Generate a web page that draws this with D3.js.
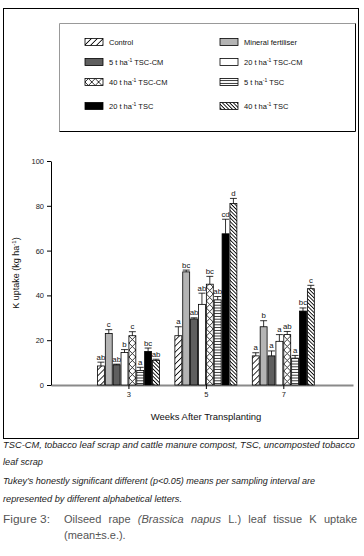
<!DOCTYPE html>
<html>
<head>
<meta charset="utf-8">
<script src="https://cdn.jsdelivr.net/npm/d3@7"></script>
<style>
  body { margin: 0; background: #fff; }
  text { font-family: "Liberation Sans", Arial, sans-serif; }
</style>
</head>
<body>
<svg id="chart" width="364" height="556"></svg>
<script>
// data
const weeks = [3, 5, 7];
const treatments = ['Control', 'Mineral fertiliser', '5 t ha-1 TSC-CM', '20 t ha-1 TSC-CM',
  '40 t ha-1 TSC-CM', '5 t ha-1 TSC', '20 t ha-1 TSC', '40 t ha-1 TSC'];
const uptakeWeek3 = [8.5, 23, 9, 14.5, 22, 6.5, 15, 11];
const uptakeWeek5 = [22, 50.5, 29.5, 36, 45, 38, 67.5, 81];
const uptakeWeek7 = [13, 26, 13, 19.5, 22.5, 12, 33, 43];
const seWeek3 = [1.7, 1.7, 0.3, 1.3, 1.8, 1.4, 1.5, 0.5];
const seWeek5 = [4, 0.8, 0.5, 5, 3.5, 1.5, 6.5, 2.3];
const seWeek7 = [1.4, 2.7, 2.2, 3, 1.4, 1.2, 1.4, 1.5];
const lettersWeek3 = ['ab', 'c', 'ab', 'b', 'c', 'a', 'bc', 'ab'];
const lettersWeek5 = ['a', 'bc', 'ab', 'ab', 'bc', 'ab', 'cd', 'd'];
const lettersWeek7 = ['a', 'b', 'a', 'a', 'ab', 'a', 'bc', 'c'];
const yTicks = [0, 20, 40, 60, 80, 100];

const uptake = [uptakeWeek3, uptakeWeek5, uptakeWeek7];
const se = [seWeek3, seWeek5, seWeek7];
const letters = [lettersWeek3, lettersWeek5, lettersWeek7];

const fills = ['url(#p-fwd)', '#b4b4b4', '#5f5f5f', '#fff', 'url(#p-cross)', 'url(#p-horiz)', '#000', 'url(#p-dense)'];

const svg = d3.select('#chart');
svg.append('rect').attr('width', 364).attr('height', 556).attr('fill', '#fff');

// patterns
const defs = svg.append('defs');
function stripes(id, size, angle, sw) {
  const p = defs.append('pattern').attr('id', id)
    .attr('patternUnits', 'userSpaceOnUse')
    .attr('width', size).attr('height', size)
    .attr('patternTransform', `rotate(${angle})`);
  p.append('rect').attr('width', size).attr('height', size).attr('fill', '#fff');
  p.append('line').attr('x1', size / 2).attr('x2', size / 2).attr('y1', 0).attr('y2', size)
    .attr('stroke', '#000').attr('stroke-width', sw);
}
stripes('p-fwd', 4.2, 45, 0.8);
stripes('p-dense', 2.6, -45, 0.9);
const ph = defs.append('pattern').attr('id', 'p-horiz')
  .attr('patternUnits', 'userSpaceOnUse').attr('width', 4).attr('height', 2.8);
ph.append('rect').attr('width', 4).attr('height', 2.8).attr('fill', '#fff');
ph.append('line').attr('x1', 0).attr('x2', 4).attr('y1', 1.4).attr('y2', 1.4)
  .attr('stroke', '#000').attr('stroke-width', 0.8);
const pc = defs.append('pattern').attr('id', 'p-cross')
  .attr('patternUnits', 'userSpaceOnUse').attr('width', 6.8).attr('height', 7);
pc.append('rect').attr('width', 6.8).attr('height', 7).attr('fill', '#fff');
pc.append('path').attr('d', 'M0,0L6.8,7M6.8,0L0,7')
  .attr('stroke', '#000').attr('stroke-width', 0.8).attr('fill', 'none');

// outer frame
svg.append('rect').attr('x', 3.5).attr('y', 8.5).attr('width', 355).attr('height', 430)
  .attr('fill', 'none').attr('stroke', '#000');

// legend box
const lg = svg.append('g');
lg.append('path').attr('d', 'M59.5,131.5V23.5H355.5').attr('fill', 'none').attr('stroke', '#999');
lg.append('path').attr('d', 'M355.5,23.5V131.5H59.5').attr('fill', 'none').attr('stroke', '#000');
const legendRows = [42, 62, 82, 106];
const legendCols = [85, 220];
treatments.forEach((name, i) => {
  const x = legendCols[i % 2], y = legendRows[Math.floor(i / 2)];
  const g = lg.append('g').attr('transform', `translate(${x},${y})`);
  g.append('rect').attr('x', 0).attr('y', -3.5).attr('width', 18).attr('height', 7)
    .attr('fill', fills[i]).attr('stroke', '#000').attr('stroke-width', 0.8);
  const t = g.append('text').attr('x', 24).attr('y', 3).attr('font-size', 7.5).attr('fill', '#111');
  const parts = name.split('-1 ');
  if (parts.length === 2) {
    t.append('tspan').text(parts[0]);
    t.append('tspan').attr('font-size', 5).attr('dy', -3).text('-1');
    t.append('tspan').attr('dy', 3).text(' ' + parts[1]);
  } else {
    t.text(name);
  }
});

// scales
const y0 = 385;
const yScale = d3.scaleLinear().domain([0, 100]).range([y0, 161]);
const xScale = d3.scaleLinear().domain([1, 8.8]).range([51, 353]);
const inner = d3.scaleBand().domain(d3.range(treatments.length)).range([-31, 31]).paddingInner(0.12);

// x axis
const xAxis = svg.append('g').attr('transform', `translate(0,${y0})`)
  .call(d3.axisBottom(xScale).tickValues(weeks).tickSize(4).tickSizeOuter(0).tickPadding(3));
xAxis.select('.domain').attr('stroke', '#8a8a8a').attr('stroke-width', 2);
xAxis.selectAll('text').attr('font-size', 7.5).attr('fill', '#222')
  .style('font-family', '"Liberation Sans", Arial, sans-serif');

// bars
weeks.forEach((w, wi) => {
  treatments.forEach((name, i) => {
    const v = uptake[wi][i];
    const bx = xScale(w) + inner(i);
    const bw = inner.bandwidth();
    const g = svg.append('g').attr('transform', `translate(${bx},${y0})`);
    g.append('rect').attr('x', 0).attr('y', yScale(v) - y0)
      .attr('width', bw).attr('height', y0 - yScale(v))
      .attr('fill', fills[i]).attr('stroke', '#000').attr('stroke-width', 0.8);
    const top = yScale(v + se[wi][i]) - y0;
    g.append('path')
      .attr('d', `M${bw / 2},${yScale(v) - y0}V${top}M0,${top}H${bw}`)
      .attr('stroke', '#000').attr('stroke-width', 0.8).attr('fill', 'none');
    g.append('text').attr('x', bw / 2).attr('y', top - 2.5)
      .attr('text-anchor', 'middle').attr('font-size', 7.8).attr('fill', '#111')
      .text(letters[wi][i]);
  });
});

// y axis
const yAxis = svg.append('g').attr('transform', 'translate(51,0)')
  .call(d3.axisLeft(yScale).tickValues(yTicks).tickSize(4).tickSizeOuter(0).tickPadding(3));
yAxis.select('.domain').attr('stroke', '#000');
yAxis.selectAll('text').attr('font-size', 7.5).attr('fill', '#222')
  .style('font-family', '"Liberation Sans", Arial, sans-serif');

// axis titles
const yl = svg.append('text').attr('transform', 'translate(19,273) rotate(-90)')
  .attr('text-anchor', 'middle').attr('font-size', 9).attr('fill', '#111');
yl.append('tspan').text('K uptake (kg ha');
yl.append('tspan').attr('font-size', 6).attr('dy', -3).text('-1');
yl.append('tspan').attr('dy', 3).text(')');

svg.append('text').attr('x', 206).attr('y', 420).attr('text-anchor', 'middle')
  .attr('font-size', 9.5).attr('fill', '#111').text('Weeks After Transplanting');

// notes below the figure
const notes = [
  ['TSC-CM, tobacco leaf scrap and cattle manure compost, TSC, uncomposted tobacco', 448, 352],
  ['leaf scrap', 465, 40],
  ['Tukey\u2019s honestly significant different (p<0.05) means per sampling interval are', 484, 312],
  ['represented by different alphabetical letters.', 502, 179]
];
notes.forEach(([s, y, len]) => {
  svg.append('text').attr('x', 3).attr('y', y).attr('font-size', 9.5)
    .attr('font-style', 'italic').attr('fill', '#222')
    .attr('textLength', len).attr('lengthAdjust', 'spacingAndGlyphs').text(s);
});

svg.append('text').attr('x', 3).attr('y', 523).attr('font-size', 11.5).attr('fill', '#555')
  .attr('textLength', 47).attr('lengthAdjust', 'spacingAndGlyphs').text('Figure 3:');

// justified caption words
const words = [['Oilseed', 0], ['rape', 0], ['(Brassica', 1], ['napus', 1], ['L.)', 0],
  ['leaf', 0], ['tissue', 0], ['K', 0], ['uptake', 0]];
const cap = svg.append('g').attr('font-size', 11).attr('fill', '#555');
const nodes = words.map(([wd, it]) => {
  const t = cap.append('text').attr('y', 523).text(wd);
  if (it) t.attr('font-style', 'italic');
  return t;
});
const widths = nodes.map(t => t.node().getComputedTextLength());
const gap = (357 - 64 - d3.sum(widths)) / (words.length - 1);
let cx = 64;
nodes.forEach((t, i) => { t.attr('x', cx); cx += widths[i] + gap; });
cap.append('text').attr('x', 64).attr('y', 539).text('(mean\u00b1s.e.).');
</script>
</body>
</html>
